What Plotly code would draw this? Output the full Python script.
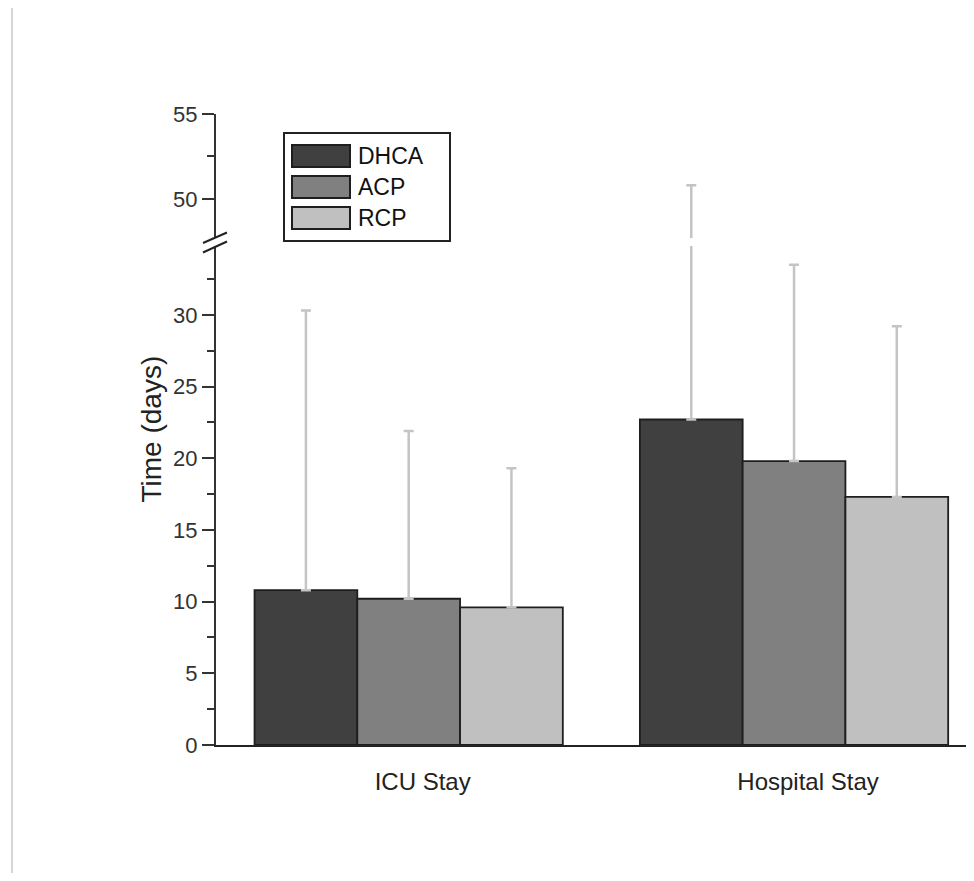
import plotly.graph_objects as go

# ---- data ----
categories = ["ICU Stay", "Hospital Stay"]
groups = ["DHCA", "ACP", "RCP"]
means = {
    "DHCA": [10.8, 22.7],
    "ACP": [10.2, 19.8],
    "RCP": [9.6, 17.3],
}
sd_plus = {
    "DHCA": [19.5, 28.1],
    "ACP": [11.7, 13.7],
    "RCP": [9.7, 11.9],
}
colors = {"DHCA": "#404040", "ACP": "#808080", "RCP": "#c0c0c0"}
lower_ticks = [0, 5, 10, 15, 20, 25, 30]
upper_ticks = [50, 55]

# ---- geometry (page pixels; page has an 8px body margin) ----
OFF = 8
W, H = 974 - OFF, 881 - 2 * OFF
L, R, T = 216 - OFF, 0, 114 - OFF
B = H - (745 - OFF)
PW, PH = W - L - R, H - T - B


def px(x):  # page x -> paper
    return (x - OFF - L) / PW


def py(y):  # page y -> paper
    return (H - B - (y - OFF)) / PH


lower_dom = [0, py(246)]
upper_dom = [py(238), 1]

fig = go.Figure()
for g in groups:
    common = dict(
        x=categories,
        y=means[g],
        name=g,
        marker=dict(color=colors[g], line=dict(color="#1e1e1e", width=1.8)),
        error_y=dict(type="data", symmetric=False, array=sd_plus[g],
                     arrayminus=[0] * len(categories),
                     color="#c4c4c4", thickness=2.5, width=5),
        showlegend=False,
    )
    fig.add_trace(go.Bar(xaxis="x", yaxis="y", **common))
    fig.add_trace(go.Bar(xaxis="x", yaxis="y2", **common))

tickfont = dict(family="Liberation Sans", size=22, color="#333333")
fig.update_layout(
    width=W, height=H,
    margin=dict(l=L, r=R, t=T, b=B),
    paper_bgcolor="white", plot_bgcolor="white",
    barmode="group", bargap=0.2, bargroupgap=0,
    xaxis=dict(
        type="category", range=[-0.5, 1.467], anchor="y",
        showline=True, linecolor="#222222", linewidth=2,
        showgrid=False, zeroline=False, ticks="",
        tickfont=dict(family="Liberation Sans", size=24, color="#222222"),
        ticklabelshift=14, ticklabelstandoff=14,
    ),
    yaxis=dict(
        domain=lower_dom, range=[0, 34.8], anchor="x",
        tickvals=lower_ticks, ticks="outside", ticklen=12, tickwidth=2,
        tickcolor="#333333",
        minor=dict(dtick=2.5, tick0=0, ticks="outside", ticklen=7,
                   tickwidth=2, tickcolor="#333333", showgrid=False),
        showline=True, linecolor="#333333", linewidth=2,
        showgrid=False, zeroline=False, tickfont=tickfont,
    ),
    yaxis2=dict(
        domain=upper_dom, range=[47.7, 55], anchor="x",
        tickvals=upper_ticks, ticks="outside", ticklen=12, tickwidth=2,
        tickcolor="#333333",
        minor=dict(dtick=2.5, tick0=0, ticks="outside", ticklen=7,
                   tickwidth=2, tickcolor="#333333", showgrid=False),
        showline=True, linecolor="#333333", linewidth=2,
        showgrid=False, zeroline=False, tickfont=tickfont,
    ),
)

# y-axis title centred on whole axis
fig.add_annotation(
    text="Time (days)", xref="paper", yref="paper",
    x=px(151), y=0.5, textangle=-90, showarrow=False,
    xanchor="center", yanchor="middle",
    font=dict(family="Liberation Sans", size=28, color="#222222"),
)

shapes = []
# axis break marks
for (x0, y0, x1, y1) in [(203, 243, 227, 232.5), (203, 252.5, 227, 241.5)]:
    shapes.append(dict(type="line", xref="paper", yref="paper",
                       x0=px(x0), y0=py(y0), x1=px(x1), y1=py(y1),
                       line=dict(color="#222222", width=2)))

# custom legend box
shapes.append(dict(type="rect", xref="paper", yref="paper",
                   x0=px(284), y0=py(241), x1=px(450), y1=py(133),
                   line=dict(color="#222222", width=2), fillcolor="white"))
sw_tops = [145, 176, 207]
for g, top in zip(groups, sw_tops):
    shapes.append(dict(type="rect", xref="paper", yref="paper",
                       x0=px(292), y0=py(top + 22), x1=px(350), y1=py(top),
                       line=dict(color="#1e1e1e", width=2),
                       fillcolor=colors[g]))
    fig.add_annotation(text=g, xref="paper", yref="paper",
                       x=px(356), y=py(top + 11), xanchor="left",
                       yanchor="middle", showarrow=False,
                       font=dict(family="Liberation Sans", size=23,
                                 color="#111111"))

# faint page border on the left
shapes.append(dict(type="line", xref="paper", yref="paper",
                   x0=px(12), y0=py(8), x1=px(12), y1=py(873),
                   line=dict(color="#d6d6d6", width=2)))
fig.update_layout(shapes=shapes)

fig.write_html("out.html")
